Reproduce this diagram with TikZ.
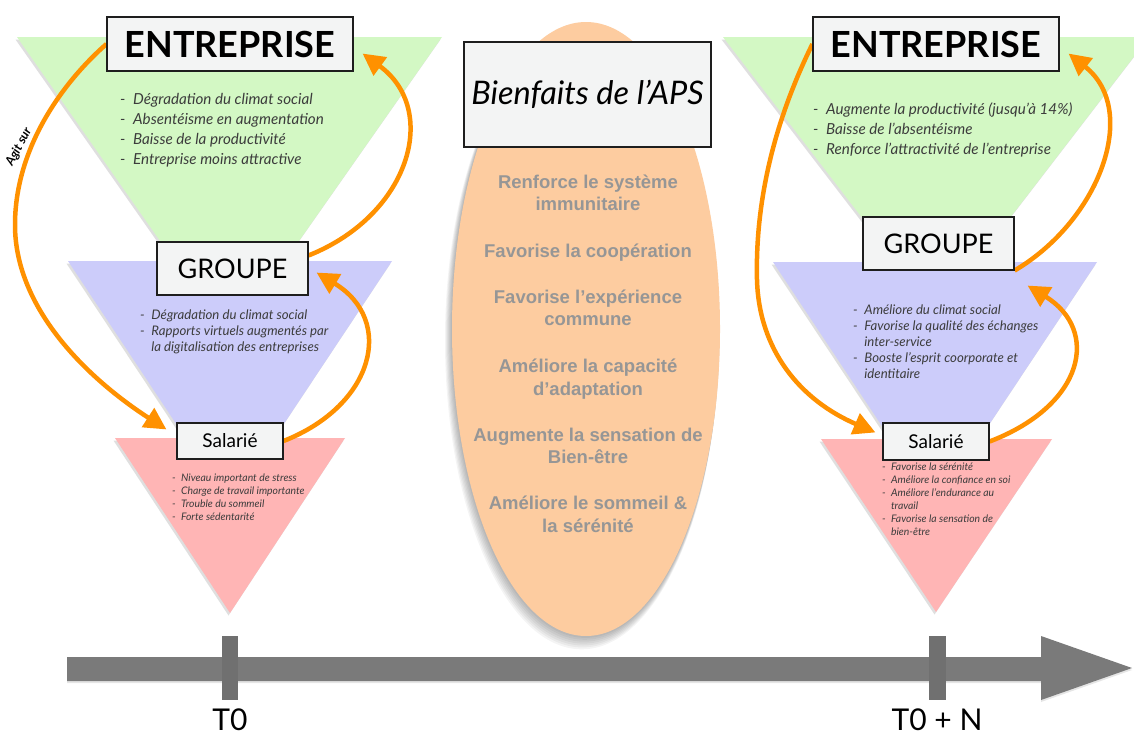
\documentclass[tikz,border=0pt]{standalone}
\usepackage{fontspec}
\setmainfont{Lato}
\newfontfamily\arialf{Liberation Sans}
\usetikzlibrary{arrows.meta,shadows,calc,shapes.geometric}
\definecolor{tgreen}{RGB}{211,248,196}
\definecolor{tblue}{RGB}{204,204,250}
\definecolor{tpink}{RGB}{255,181,181}
\definecolor{peach}{RGB}{253,204,160}
\definecolor{orng}{RGB}{255,145,0}
\definecolor{boxfill}{RGB}{243,244,244}
\definecolor{boxline}{RGB}{30,30,30}
\definecolor{barc}{RGB}{122,122,122}
\definecolor{txt}{RGB}{60,60,60}
\definecolor{ctxt}{RGB}{150,150,150}
\newcommand\li{\makebox[0.85em][l]{-}}
\newcommand\lc{\hspace*{0.85em}}
\pgfdeclarelayer{bg}
\pgfdeclarelayer{mid}
\pgfsetlayers{bg,mid,main}
\begin{document}
\begin{tikzpicture}[x=1pt,y=-1pt,
  box/.style={draw=boxline, line width=1.1pt, fill=boxfill, inner sep=0pt},
  arr/.style={draw=orng, line width=4.5pt, -{Triangle[length=22pt,width=22pt]}},
  tri/.style={drop shadow={shadow xshift=-1.5pt,shadow yshift=-2.5pt,opacity=0.25}},
  lg/.style={anchor=base west, inner sep=0pt, text=txt, font=\itshape\fontsize{15.2}{18}\selectfont},
  lb/.style={anchor=base west, inner sep=0pt, text=txt, font=\itshape\fontsize{13.2}{15}\selectfont},
  lp/.style={anchor=base west, inner sep=0pt, text=txt, font=\itshape\fontsize{10.4}{12}\selectfont},
  ct/.style={anchor=base, inner sep=0pt, text=ctxt, font=\arialf\bfseries\fontsize{18.5}{22}\selectfont}]
\useasboundingbox (0,0) rectangle (1134,736);

% ---------- boxes ----------
\node[box, minimum width=246pt, minimum height=54pt, font=\bfseries\fontsize{36}{36}\selectfont] (eL) at (230,44) {ENTREPRISE};
\node[box, minimum width=151pt, minimum height=53pt, font=\fontsize{27}{27}\selectfont] (gL) at (232.5,268.5) {GROUPE};
\node[box, minimum width=106pt, minimum height=36pt, font=\fontsize{19}{19}\selectfont] (sL) at (230,441) {Salarié};
\node[box, minimum width=246pt, minimum height=54pt, font=\bfseries\fontsize{36}{36}\selectfont] (eR) at (936,44) {ENTREPRISE};
\node[box, minimum width=151pt, minimum height=53pt, font=\fontsize{27}{27}\selectfont] (gR) at (938.5,243.5) {GROUPE};
\node[box, minimum width=106pt, minimum height=37pt, font=\fontsize{19}{19}\selectfont] (sR) at (936,441.5) {Salarié};
\node[box, minimum width=247pt, minimum height=105pt, font=\itshape\fontsize{32.5}{32.5}\selectfont] (bien) at (587.5,94.5) {Bienfaits de l’APS};

% ---------- background shapes ----------
\begin{pgfonlayer}{bg}
\fill[white] (0,0) rectangle (1134,736);
\path[tri, fill=tgreen] (17,37) -- (442,37) -- (229.5,340) -- cycle;
\path[tri, fill=tblue] (68,261) -- (392,261) -- (230,505) -- cycle;
\path[tri, fill=tpink] (115,438) -- (345,438) -- (230,613) -- cycle;
\path[tri, fill=tgreen] (723,37) -- (1149,37) -- (936,314) -- cycle;
\path[tri, fill=tblue] (773,262) -- (1097,262) -- (935,506) -- cycle;
\path[tri, fill=tpink] (821,439) -- (1052,439) -- (936,612) -- cycle;
% soft shadow of the ellipse
\foreach \k in {1,...,7}
  \fill[black, opacity=0.045] ({586-0.6*\k},{329+1.6*\k}) ellipse ({134+0.4*\k} and {307+0.3*\k});
\node[ellipse, inner sep=0pt, minimum width=268pt, minimum height=614pt, fill=peach] (ell) at (586,329) {};

% timeline
\fill[barc, drop shadow={shadow xshift=0pt,shadow yshift=-2pt,opacity=0.2}]
  (67,657) -- (1041,657) -- (1041,636) -- (1132,668) -- (1041,700) -- (1041,681) -- (67,681) -- cycle;
\fill[barc!92!black] (222,636) rectangle (238,700);
\fill[barc!92!black] (929,636) rectangle (946,700);

% lists
\foreach \t [count=\i from 0] in {{\li Dégradation du climat social},{\li Absentéisme en augmentation},{\li Baisse de la productivité},{\li Entreprise moins attractive}}
  \node[lg] (lgl\i) at (120,{104+20*\i}) {\t};
\foreach \t [count=\i from 0] in {{\li Dégradation du climat social},{\li Rapports virtuels augmentés par},{\lc la digitalisation des entreprises}}
  \node[lb] (lbl\i) at (140,{319.5+16*\i}) {\t};
\foreach \t [count=\i from 0] in {{\li Niveau important de stress},{\li Charge de travail importante},{\li Trouble du sommeil},{\li Forte sédentarité}}
  \node[lp] (lpl\i) at (172,{481+13*\i}) {\t};
\foreach \t [count=\i from 0] in {{\li Augmente la productivité (jusqu’à 14\%)},{\li Baisse de l’absentéisme},{\li Renforce l’attractivité de l’entreprise}}
  \node[lg] (lgr\i) at (813,{114+20*\i}) {\t};
\foreach \t [count=\i from 0] in {{\li Améliore du climat social},{\li Favorise la qualité des échanges},{\lc inter-service},{\li Booste l’esprit coorporate et},{\lc identitaire}}
  \node[lb] (lbr\i) at (853,{314.5+15.9*\i}) {\t};
\foreach \t [count=\i from 0] in {{\li Favorise la sérénité},{\li Améliore la confiance en soi},{\li Améliore l’endurance au},{\lc travail},{\li Favorise la sensation de},{\lc bien-être}}
  \node[lp] (lpr\i) at (882,{470+13*\i}) {\t};

% centre texts
\foreach \yy/\t [count=\i] in {188/{Renforce le système},210/{immunitaire},257/{Favorise la coopération},303/{Favorise l’expérience},325/{commune},372/{Améliore la capacité},395/{d’adaptation},441/{Augmente la sensation de},463/{Bien-être},509/{Améliore le sommeil \&},532/{la sérénité}}
  \node[ct] (c\i) at (588,\yy) {\t};

% timeline labels
\node[anchor=base, inner sep=0pt, font=\fontsize{30}{30}\selectfont] (t0) at (230,730) {T0};
\node[anchor=base, inner sep=0pt, font=\fontsize{30}{30}\selectfont] (tn) at (937,730) {T0 + N};
\end{pgfonlayer}

% ---------- arrows ----------
\begin{pgfonlayer}{mid}
\draw[arr] (eL.west) .. controls (60,85) and (15,150) .. (15,225) .. controls (15,310) and (90,380) .. ($(sL.north west)+(-10,7)$);
\draw[arr] ($(gL.north east)+(0,14)$) .. controls (410,215) and (440,110) .. ($(eL.south east)+(9,-18)$);
\draw[arr] (sL.east) .. controls (375,405) and (395,320) .. ($(gL.south east)+(8,-23)$);
\draw[arr] (eR.west) .. controls (775,120) and (755,200) .. (757,280) .. controls (759,350) and (800,400) .. ($(sR.north west)+(-7,10)$);
\draw[arr] (gR.south east) .. controls (1100,220) and (1140,110) .. ($(eR.south east)+(9,-18)$);
\draw[arr] (sR.east) .. controls (1085,405) and (1100,330) .. ($(gR.south east)+(13,15)$);
\node[rotate=62, inner sep=0pt, font=\itshape\bfseries\fontsize{12.5}{12.5}\selectfont] (agit) at (19,147) {Agit sur};
\end{pgfonlayer}
\end{tikzpicture}
\end{document}
